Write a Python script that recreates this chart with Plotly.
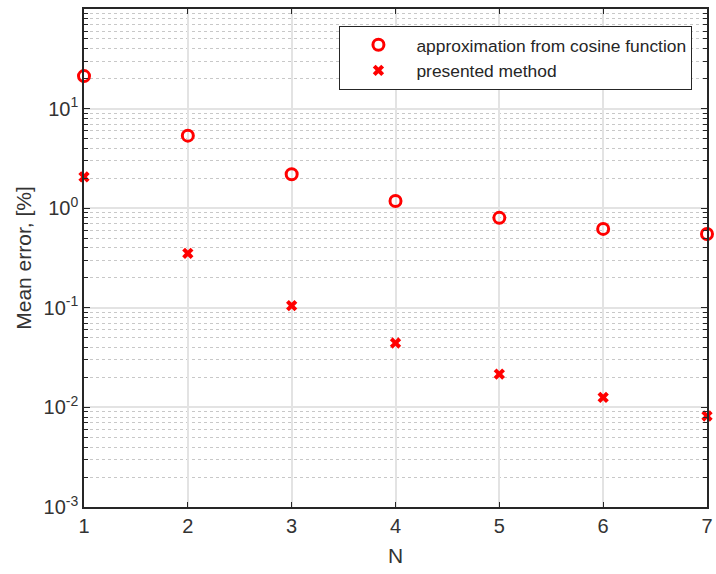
import plotly.graph_objects as go

# Mean error versus number of terms N
n_values = [1, 2, 3, 4, 5, 6, 7]
cosine_error = [21.2, 5.35, 2.19, 1.18, 0.80, 0.62, 0.55]
presented_error = [2.06, 0.352, 0.105, 0.0443, 0.0216, 0.0126, 0.0082]

series_names = ["approximation from cosine function", "presented method"]
y_tick_vals = [1e-3, 1e-2, 1e-1, 1e0, 1e1, 1e2]
y_tick_text = ["10<sup>-3</sup>", "10<sup>-2</sup>", "10<sup>-1</sup>",
               "10<sup>0</sup>", "10<sup>1</sup>", "10<sup>2</sup>"]

minor_vals = [m * 10.0 ** e for e in range(-3, 2) for m in range(2, 10)]

red = "#ff0000"
axis_color = "#262626"
label_color = "#333333"
font_family = "Liberation Sans, Arial, sans-serif"

fig = go.Figure()
fig.add_trace(go.Scatter(
    x=n_values, y=cosine_error, mode="markers", name=series_names[0],
    marker=dict(symbol="circle-open", size=11, color=red, line=dict(width=3, color=red)),
    cliponaxis=False,
))
fig.add_trace(go.Scatter(
    x=n_values, y=presented_error, mode="markers", name=series_names[1],
    marker=dict(symbol="x", size=10, color=red, line=dict(width=0)),
    cliponaxis=False,
))

fig.update_layout(
    width=716, height=574,
    margin=dict(l=84, r=3, t=9, b=67),
    paper_bgcolor="white", plot_bgcolor="white",
    font=dict(family=font_family, color=axis_color),
    showlegend=True,
    legend=dict(
        x=0.41, y=0.966, xanchor="left", yanchor="top",
        bgcolor="white", bordercolor="#262626", borderwidth=1,
        font=dict(size=17.4, family=font_family, color="#262626"),
        itemwidth=66, tracegroupgap=0,
    ),
)

fig.update_xaxes(
    range=[1, 7], tickmode="array", tickvals=n_values,
    ticks="inside", ticklen=5, tickcolor=axis_color,
    showline=True, linecolor=axis_color, linewidth=1.5, mirror="ticks",
    showgrid=True, gridcolor="#e3e3e3", gridwidth=1.5,
    zeroline=False, ticklabeloverflow="allow",
    tickfont=dict(size=20, color=label_color),
    title=dict(text="N", font=dict(size=21, color=label_color), standoff=13),
)

fig.update_yaxes(
    type="log", range=[-3, 2],
    tickmode="array", tickvals=y_tick_vals, ticktext=y_tick_text,
    ticks="inside", ticklen=6, tickcolor=axis_color,
    showline=True, linecolor=axis_color, linewidth=1.5, mirror="allticks",
    showgrid=True, gridcolor="#e3e3e3", gridwidth=1.5,
    zeroline=False,
    tickfont=dict(size=20, color=label_color),
    title=dict(text="Mean error, [%]", font=dict(size=21, color=label_color), standoff=6),
    minor=dict(
        tickmode="array", tickvals=minor_vals,
        ticks="inside", ticklen=4, tickcolor=axis_color,
        showgrid=True, gridcolor="#c8c8c8", griddash="dot", gridwidth=1,
    ),
)

fig.write_html("out.html")
